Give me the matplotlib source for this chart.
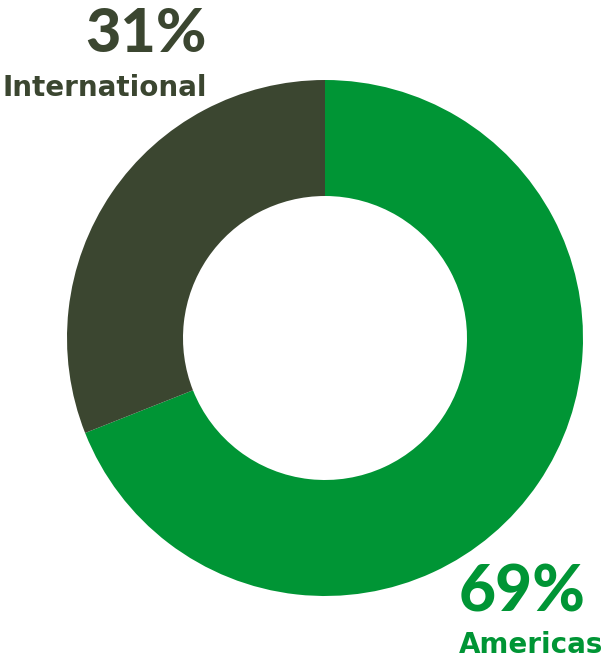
import matplotlib
matplotlib.use("Agg")
from matplotlib import pyplot as plt

labels = ["Americas", "International"]
values = [69, 31]
colors = ["#009535", "#3b4630"]

fig = plt.figure(figsize=(6.08, 6.60), dpi=100)
ax = fig.add_axes([0, 0, 1, 1])

ax.pie(values, colors=colors, startangle=90, counterclock=False,
       center=(325, 322), radius=258, frame=True,
       wedgeprops=dict(width=116, linewidth=0))
ax.set_xlim(0, 608)
ax.set_ylim(0, 660)
ax.set_aspect("equal")
ax.axis("off")

# International
ax.text(207, 608, "31%", ha="right", va="baseline", fontsize=44,
        fontweight="black", color=colors[1], family="Lato")
ax.text(207, 564, labels[1], ha="right", va="baseline", fontsize=20,
        fontweight="bold", color=colors[1], family="DejaVu Sans")
# Americas
ax.text(459, 49, "69%", ha="left", va="baseline", fontsize=46,
        fontweight="black", color=colors[0], family="Lato")
ax.text(459, 7, labels[0], ha="left", va="baseline", fontsize=20,
        fontweight="bold", color=colors[0], family="DejaVu Sans")

plt.savefig("out.png", dpi=100)
